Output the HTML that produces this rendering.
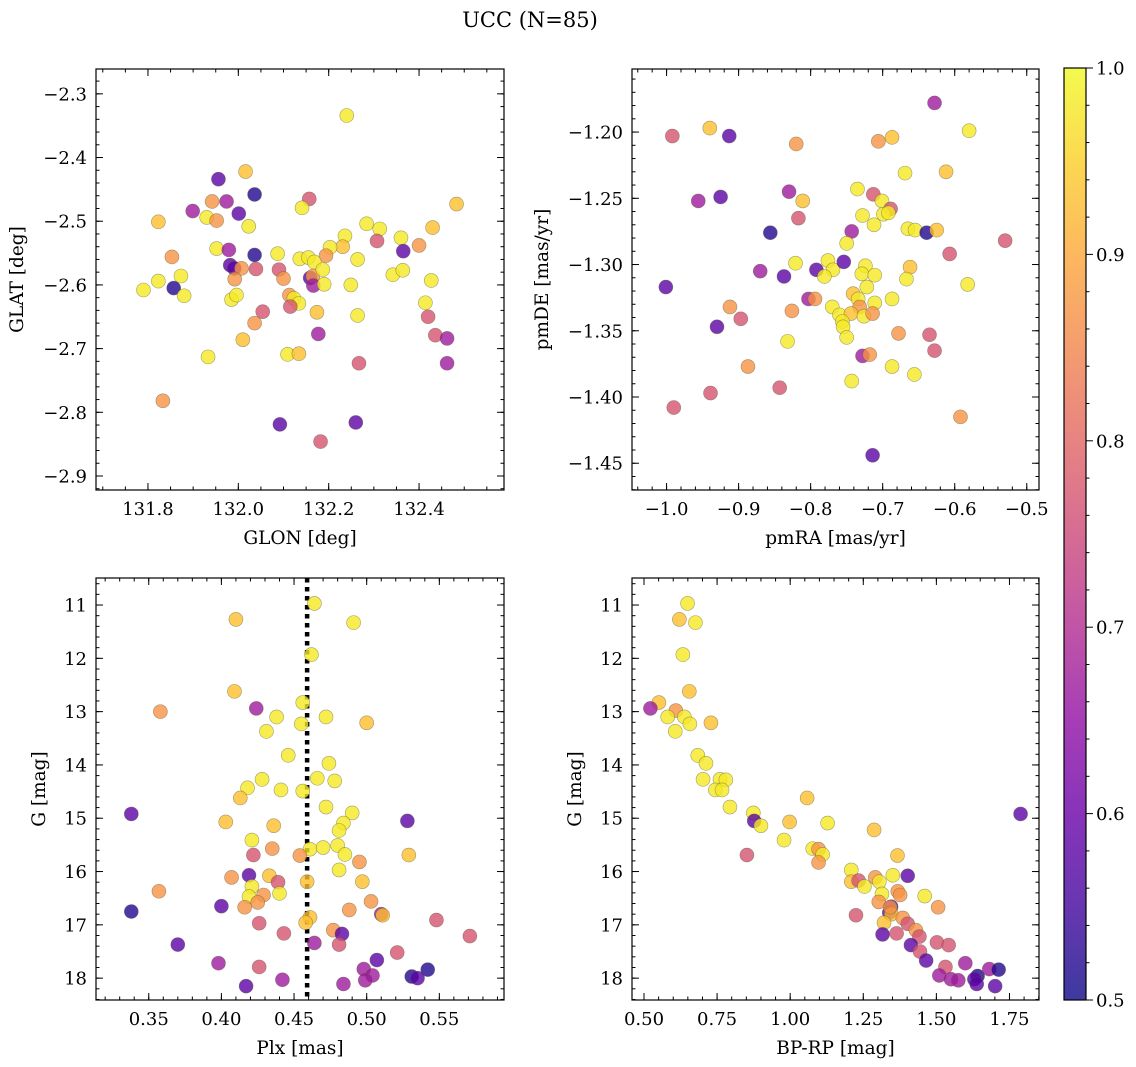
<!DOCTYPE html>
<html><head><meta charset="utf-8"><style>
html,body{margin:0;padding:0;background:#fff;}
svg{display:block;font-family:"DejaVu Serif","Liberation Serif",serif;}
</style></head><body>
<svg id="fig" width="1136" height="1067" viewBox="0 0 1136 1067" xmlns="http://www.w3.org/2000/svg">
<text x="530" y="27" font-size="21" text-anchor="middle">UCC (N=85)</text>
</svg>
<script>
// ---- Panel 1: GLON / GLAT ----
const p1Glon=[132.240,132.016,131.956,132.036,132.157,132.141,131.942,131.974,131.899,132.001,132.483,131.823,131.930,131.952,132.023,132.284,132.313,132.430,132.236,132.231,132.307,132.360,132.400,132.365,131.952,131.979,132.036,132.087,132.203,132.194,131.853,132.136,132.155,132.168,132.264,131.982,131.991,132.007,132.039,132.090,132.100,131.992,132.159,132.165,132.166,132.187,132.190,132.342,132.364,132.427,132.249,131.873,131.823,131.790,131.857,131.880,131.985,131.996,132.113,132.123,132.134,132.115,132.414,132.420,132.054,132.174,132.264,132.036,132.177,132.436,132.462,132.010,131.933,132.109,132.134,132.267,132.462,131.833,132.092,132.260,132.182];
const p1Glat=[-2.334,-2.422,-2.434,-2.458,-2.465,-2.479,-2.469,-2.469,-2.484,-2.488,-2.473,-2.501,-2.494,-2.499,-2.508,-2.504,-2.512,-2.510,-2.523,-2.540,-2.531,-2.526,-2.538,-2.547,-2.543,-2.545,-2.553,-2.551,-2.541,-2.554,-2.556,-2.559,-2.557,-2.564,-2.560,-2.569,-2.574,-2.574,-2.575,-2.576,-2.590,-2.591,-2.589,-2.586,-2.601,-2.576,-2.599,-2.584,-2.577,-2.593,-2.600,-2.586,-2.594,-2.608,-2.605,-2.617,-2.623,-2.616,-2.616,-2.621,-2.629,-2.634,-2.628,-2.650,-2.642,-2.643,-2.648,-2.660,-2.677,-2.679,-2.684,-2.686,-2.713,-2.709,-2.708,-2.723,-2.723,-2.782,-2.819,-2.816,-2.846];
const p1Prob=[.98,.93,.58,.52,.77,.98,.87,.67,.67,.58,.93,.93,.98,.87,.98,.98,.98,.93,.98,.93,.77,.98,.87,.58,.98,.67,.52,.98,.98,.87,.87,.98,.98,.98,.98,.58,.58,.87,.77,.77,.87,.87,.58,.87,.67,.98,.98,.98,.98,.98,.98,.98,.98,.98,.52,.98,.98,.98,.87,.98,.98,.77,.98,.77,.77,.93,.98,.87,.67,.77,.67,.93,.98,.98,.93,.77,.67,.87,.58,.58,.77];
// ---- Panel 2: pmRA / pmDE ----
const p2PmRA=[-0.628,-0.992,-0.940,-0.913,-0.820,-0.706,-0.687,-0.580,-0.669,-0.612,-0.956,-0.925,-0.830,-0.811,-0.735,-0.713,-0.701,-0.689,-0.817,-0.728,-0.699,-0.692,-0.712,-0.856,-0.743,-0.665,-0.655,-0.639,-0.625,-0.530,-0.750,-0.607,-0.821,-0.776,-0.792,-0.769,-0.781,-0.754,-0.870,-0.837,-0.724,-0.729,-0.711,-0.662,-0.667,-0.722,-0.582,-1.001,-0.741,-0.734,-0.732,-0.711,-0.687,-0.803,-0.794,-0.770,-0.760,-0.744,-0.726,-0.714,-0.756,-0.755,-0.750,-0.912,-0.897,-0.826,-0.930,-0.678,-0.635,-0.628,-0.832,-0.728,-0.718,-0.687,-0.656,-0.743,-0.887,-0.843,-0.939,-0.990,-0.592,-0.714];
const p2PmDE=[-1.178,-1.203,-1.197,-1.203,-1.209,-1.207,-1.204,-1.199,-1.231,-1.230,-1.252,-1.249,-1.245,-1.252,-1.243,-1.247,-1.252,-1.258,-1.265,-1.263,-1.262,-1.261,-1.270,-1.276,-1.275,-1.273,-1.274,-1.276,-1.274,-1.282,-1.284,-1.292,-1.299,-1.297,-1.304,-1.304,-1.309,-1.298,-1.305,-1.309,-1.301,-1.307,-1.308,-1.302,-1.311,-1.317,-1.315,-1.317,-1.322,-1.326,-1.332,-1.329,-1.326,-1.326,-1.326,-1.332,-1.338,-1.337,-1.339,-1.337,-1.343,-1.347,-1.355,-1.332,-1.341,-1.335,-1.347,-1.352,-1.353,-1.365,-1.358,-1.369,-1.368,-1.377,-1.383,-1.388,-1.377,-1.393,-1.397,-1.408,-1.415,-1.444];
const p2Prob=[.67,.77,.93,.58,.87,.87,.93,.98,.98,.93,.67,.58,.67,.93,.98,.77,.98,.77,.77,.98,.98,.98,.98,.52,.67,.98,.98,.52,.93,.77,.98,.77,.98,.98,.58,.98,.98,.58,.67,.58,.98,.98,.98,.93,.98,.98,.98,.58,.93,.98,.87,.98,.98,.67,.87,.98,.98,.93,.98,.87,.98,.98,.98,.87,.77,.87,.58,.87,.77,.77,.98,.67,.87,.98,.98,.98,.87,.77,.77,.77,.87,.58];
// ---- Panel 3: Plx / G ----
const p3Plx=[0.464,0.410,0.491,0.462,0.409,0.358,0.424,0.456,0.438,0.472,0.455,0.500,0.431,0.446,0.474,0.428,0.466,0.478,0.418,0.441,0.456,0.413,0.472,0.490,0.338,0.528,0.403,0.436,0.484,0.481,0.421,0.435,0.461,0.470,0.480,0.485,0.529,0.422,0.454,0.495,0.481,0.407,0.419,0.433,0.439,0.459,0.497,0.357,0.421,0.419,0.429,0.440,0.425,0.416,0.400,0.338,0.503,0.488,0.510,0.511,0.548,0.461,0.458,0.426,0.477,0.483,0.443,0.464,0.481,0.571,0.370,0.521,0.507,0.398,0.426,0.498,0.542,0.504,0.499,0.531,0.535,0.442,0.484,0.417];
const p3G=[10.97,11.27,11.33,11.93,12.62,13.00,12.94,12.83,13.10,13.10,13.23,13.21,13.37,13.82,13.97,14.27,14.25,14.30,14.43,14.47,14.49,14.62,14.79,14.90,14.92,15.05,15.07,15.14,15.09,15.23,15.41,15.57,15.58,15.55,15.51,15.68,15.69,15.69,15.70,15.82,15.97,16.11,16.07,16.08,16.20,16.19,16.19,16.37,16.28,16.47,16.44,16.41,16.58,16.67,16.65,16.75,16.56,16.72,16.80,16.82,16.91,16.86,16.96,16.97,17.10,17.17,17.16,17.34,17.37,17.21,17.37,17.52,17.66,17.72,17.79,17.83,17.84,17.95,18.04,17.97,18.00,18.03,18.11,18.15];
const p3Prob=[.98,.93,.98,.98,.93,.87,.67,.98,.98,.98,.98,.93,.98,.98,.98,.98,.98,.98,.98,.98,.98,.93,.98,.98,.58,.58,.93,.93,.98,.98,.98,.87,.98,.98,.98,.98,.93,.77,.87,.87,.98,.87,.58,.93,.77,.93,.93,.87,.98,.98,.87,.98,.87,.87,.58,.52,.87,.87,.67,.93,.77,.93,.93,.77,.87,.58,.77,.67,.77,.77,.58,.77,.58,.67,.77,.67,.52,.67,.67,.52,.58,.67,.67,.58];
const p3PlxLine=0.459;
// ---- Panel 4: BP-RP / G ----
const p4BpRp=[0.649,0.621,0.676,0.633,0.655,0.551,0.522,0.609,0.581,0.638,0.657,0.729,0.607,0.684,0.712,0.702,0.760,0.780,0.744,0.767,0.794,0.874,0.877,0.900,0.998,1.058,1.128,0.979,1.287,1.077,1.097,1.111,1.097,0.852,1.367,1.209,1.209,1.234,1.254,1.291,1.305,1.351,1.402,1.368,1.376,1.314,1.460,1.506,1.303,1.345,1.339,1.346,1.321,1.385,1.402,1.430,1.442,1.364,1.316,1.225,1.413,1.444,1.502,1.542,1.465,1.531,1.599,1.510,1.550,1.575,1.641,1.630,1.638,1.681,1.713,1.701,1.788,1.342];
const p4G=[10.97,11.27,11.33,11.93,12.62,12.83,12.94,12.98,13.10,13.10,13.23,13.21,13.37,13.82,13.97,14.27,14.27,14.28,14.47,14.47,14.79,14.90,15.05,15.14,15.07,14.62,15.09,15.41,15.22,15.57,15.58,15.68,15.83,15.69,15.70,15.97,16.19,16.17,16.28,16.11,16.19,16.07,16.08,16.37,16.44,16.42,16.46,16.67,16.57,16.66,16.77,16.80,16.96,16.87,16.98,17.10,17.22,17.16,17.18,16.82,17.38,17.50,17.33,17.38,17.67,17.79,17.72,17.95,18.02,18.04,17.96,18.02,18.11,17.83,17.84,18.15,14.92,16.67];
const p4Prob=[.98,.93,.98,.98,.93,.93,.67,.87,.98,.98,.98,.93,.98,.98,.98,.98,.98,.98,.98,.98,.98,.98,.58,.98,.93,.93,.98,.98,.93,.98,.87,.98,.87,.77,.93,.98,.93,.77,.98,.87,.98,.98,.58,.87,.87,.98,.98,.87,.87,.58,.58,.93,.93,.87,.77,.87,.77,.77,.58,.77,.58,.77,.77,.77,.58,.77,.67,.67,.67,.67,.52,.58,.58,.67,.52,.58,.58,.87];
// ---- Colorbar ----
const cbTicks=[0.5,0.6,0.7,0.8,0.9,1.0];
const cbTickLabels=["0.5","0.6","0.7","0.8","0.9","1.0"];

const NS="http://www.w3.org/2000/svg";
const svg=document.getElementById('fig');
const TICKFS=18, LABFS=18.5;
function mk(tag,attrs,parent){const e=document.createElementNS(NS,tag);for(const k in attrs)e.setAttribute(k,attrs[k]);(parent||svg).appendChild(e);return e;}
const stops=[[13,8,135],[65,4,157],[106,0,168],[143,13,164],[177,42,144],[204,71,120],[225,100,98],[242,132,75],[252,166,54],[252,206,37],[240,249,33]];
function plasma(t){t=Math.max(0,Math.min(1,t));const f=t*10;const i=Math.min(9,Math.floor(f));const r=f-i;const a=stops[i],b=stops[i+1];return 'rgb('+a.map((v,k)=>Math.round(v+(b[k]-v)*r)).join(',')+')';}
function pcol(p){return plasma((p-0.5)/0.5);}
function fmt(v,d){const s=Math.abs(v).toFixed(d);return (v<-1e-9?'\u2212':'')+s;}

function panel(o){
  const g=mk('g',{});
  
  
  const X=v=>o.L+(v-o.x0)/(o.x1-o.x0)*(o.R-o.L);
  const Y=v=>o.B-(v-o.y0)/(o.y1-o.y0)*(o.B-o.T);
  if(o.vline!==undefined){
    const l=mk('line',{x1:X(o.vline),x2:X(o.vline),y1:o.T,y2:o.B,stroke:'#000','stroke-width':4.5,'stroke-dasharray':'4.5 4.5'},g);
    
    
  }
  const pts=mk('g',{},g);
  
  
  const n=Math.min(o.xs.length,o.ys.length,o.ps.length);
  for(let i=0;i<n;i++){
    const c=mk('circle',{cx:X(o.xs[i]),cy:Y(o.ys[i]),r:7,fill:pcol(o.ps[i]),'fill-opacity':0.8,stroke:'rgba(90,90,60,0.55)','stroke-width':0.6},pts);
    
    
  }
  const fr=mk('rect',{x:o.L,y:o.T,width:o.R-o.L,height:o.B-o.T,fill:'none',stroke:'#000','stroke-width':1.2},g);
  
  
  const tg=mk('g',{stroke:'#000','stroke-width':1},g);
  function ticksX(step,len){const s=Math.ceil((o.x0)/step-1e-6);for(let k=s;k*step<=o.x1+1e-9;k++){const x=X(k*step);mk('line',{x1:x,x2:x,y1:o.B,y2:o.B-len},tg);mk('line',{x1:x,x2:x,y1:o.T,y2:o.T+len},tg);}}
  function ticksY(step,len){const lo=Math.min(o.y0,o.y1),hi=Math.max(o.y0,o.y1);const s=Math.ceil(lo/step-1e-6);for(let k=s;k*step<=hi+1e-9;k++){const y=Y(k*step);mk('line',{x1:o.L,x2:o.L+len,y1:y,y2:y},tg);mk('line',{x1:o.R,x2:o.R-len,y1:y,y2:y},tg);}}
  ticksX(o.xminor,3.5);ticksX(o.xmajor,7);ticksY(o.yminor,3.5);ticksY(o.ymajor,7);
  o.xt.forEach(v=>{const t=mk('text',{x:X(v),y:o.B+25,'font-size':TICKFS,'text-anchor':'middle'},g);t.textContent=fmt(v,o.xd);});
  o.yt.forEach(v=>{const t=mk('text',{x:o.L-9,y:Y(v)+6.5,'font-size':TICKFS,'text-anchor':'end'},g);t.textContent=fmt(v,o.yd);});
  const xl=mk('text',{x:(o.L+o.R)/2,y:o.B+54,'font-size':LABFS,'text-anchor':'middle'},g);xl.textContent=o.xlabel;
  
  const yc=(o.T+o.B)/2;
  const yl=mk('text',{x:o.ylx,y:yc,'font-size':LABFS,'text-anchor':'middle',transform:`rotate(-90 ${o.ylx} ${yc})`},g);yl.textContent=o.ylabel;
  
}
panel({name:'glon-glat-panel',L:96,R:504,T:69,B:490,x0:131.685,x1:132.588,y0:-2.922,y1:-2.261,xs:p1Glon,ys:p1Glat,ps:p1Prob,xmajor:0.2,xminor:0.05,ymajor:0.1,yminor:0.02,xt:[131.8,132.0,132.2,132.4],yt:[-2.3,-2.4,-2.5,-2.6,-2.7,-2.8,-2.9],xd:1,yd:1,xlabel:'GLON [deg]',ylabel:'GLAT [deg]',ylx:23});
panel({name:'pmra-pmde-panel',L:632,R:1039,T:69,B:490,x0:-1.048,x1:-0.483,y0:-1.4702,y1:-1.1524,xs:p2PmRA,ys:p2PmDE,ps:p2Prob,xmajor:0.1,xminor:0.02,ymajor:0.05,yminor:0.01,xt:[-1.0,-0.9,-0.8,-0.7,-0.6,-0.5],yt:[-1.20,-1.25,-1.30,-1.35,-1.40,-1.45],xd:1,yd:2,xlabel:'pmRA [mas/yr]',ylabel:'pmDE [mas/yr]',ylx:548});
panel({name:'plx-g-panel',L:96,R:504,T:578,B:1000,x0:0.3137,x1:0.5945,y0:18.41,y1:10.493,xs:p3Plx,ys:p3G,ps:p3Prob,vline:p3PlxLine,xmajor:0.05,xminor:0.01,ymajor:1,yminor:0.2,xt:[0.35,0.40,0.45,0.50,0.55],yt:[11,12,13,14,15,16,17,18],xd:2,yd:0,xlabel:'Plx [mas]',ylabel:'G [mag]',ylx:45});
panel({name:'cmd-panel',L:632,R:1039,T:578,B:1000,x0:0.459,x1:1.851,y0:18.41,y1:10.493,xs:p4BpRp,ys:p4G,ps:p4Prob,xmajor:0.25,xminor:0.05,ymajor:1,yminor:0.2,xt:[0.5,0.75,1.0,1.25,1.5,1.75],yt:[11,12,13,14,15,16,17,18],xd:2,yd:0,xlabel:'BP-RP [mag]',ylabel:'G [mag]',ylx:581});

(function(){
  const L=1064,R=1086,T=68,B=1000;
  const g=mk('g',{});
  
  
  const defs=mk('defs',{},g);
  const lg=mk('linearGradient',{id:'cbg',x1:0,y1:1,x2:0,y2:0},defs);
  for(let i=0;i<=20;i++){mk('stop',{offset:i/20,'stop-color':plasma(i/20)},lg);}
  const r=mk('rect',{x:L,y:T,width:R-L,height:B-T,fill:'url(#cbg)','fill-opacity':0.8},g);
  
  
  mk('rect',{x:L,y:T,width:R-L,height:B-T,fill:'none',stroke:'#000','stroke-width':1.2},g);
  const Yc=v=>B-(v-0.5)/0.5*(B-T);
  for(let k=25;k<=50;k++){const y=Yc(k*0.02);const major=(k%5===0);mk('line',{x1:R,x2:R+(major?7:3.5),y1:y,y2:y,stroke:'#000','stroke-width':1},g);}
  cbTicks.forEach((v,i)=>{const t=mk('text',{x:R+10,y:Yc(v)+6.5,'font-size':TICKFS},g);t.textContent=cbTickLabels[i];});
})();
</script>
</body></html>
